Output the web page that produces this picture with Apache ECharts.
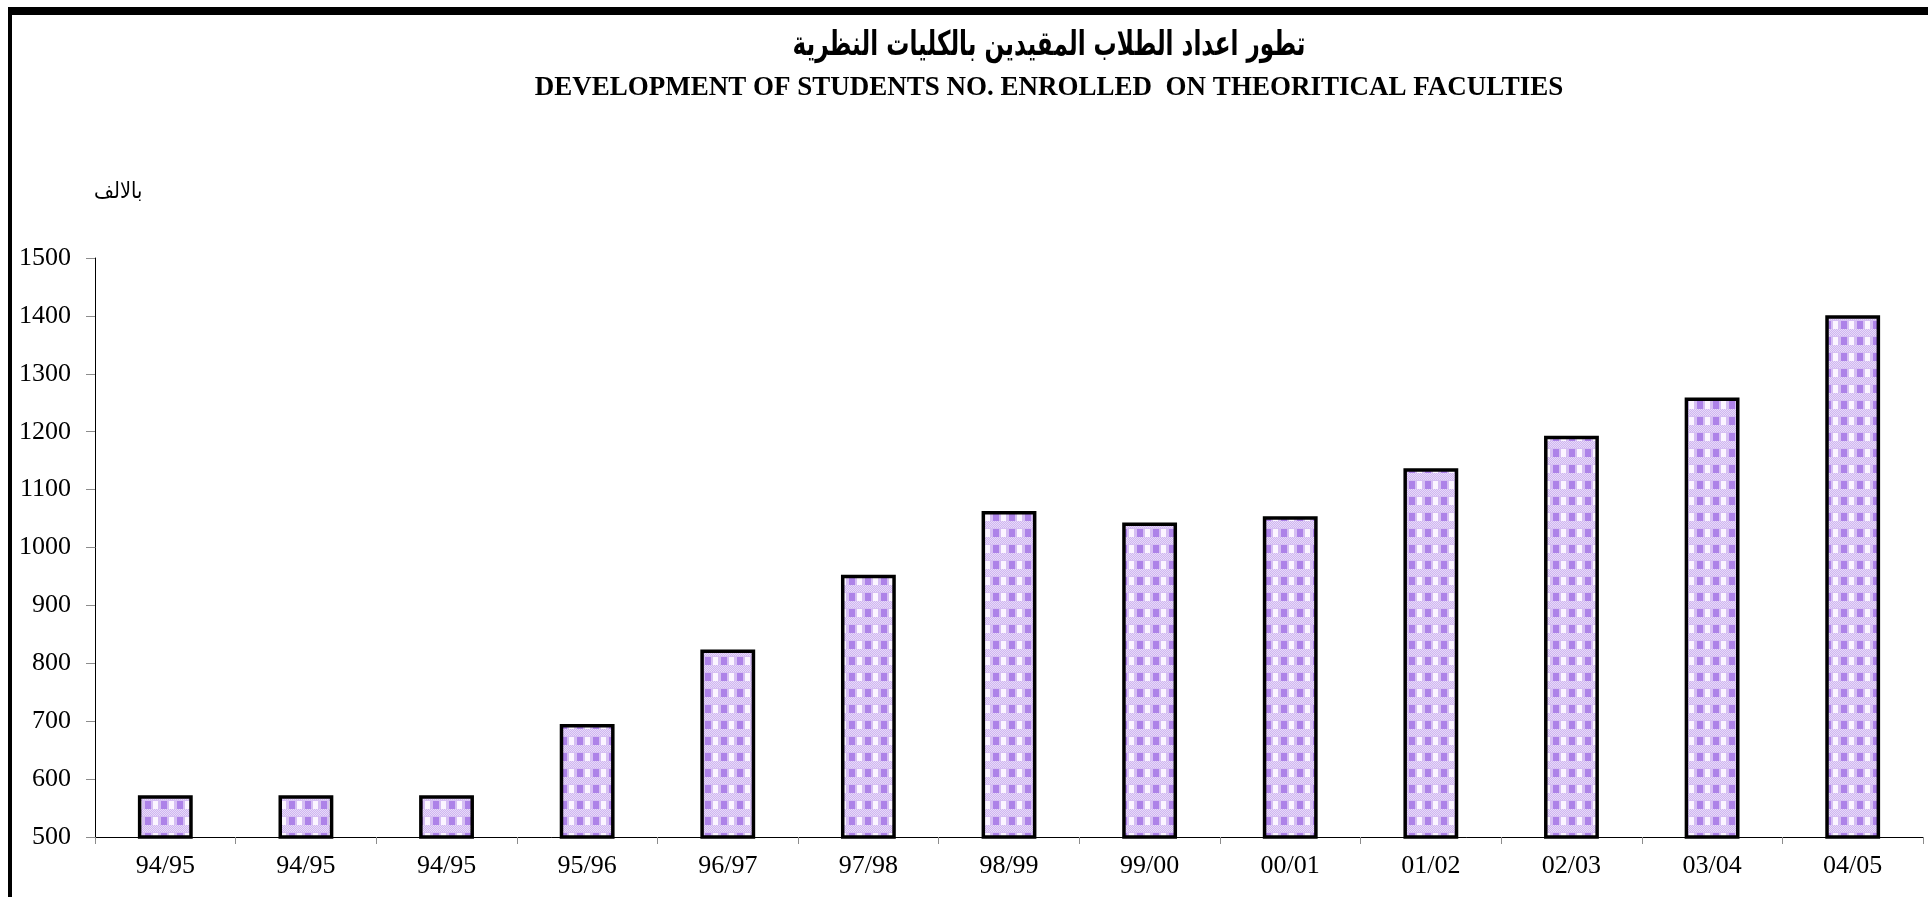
<!DOCTYPE html>
<html>
<head>
<meta charset="utf-8">
<title>Theoretical faculties enrolment</title>
<script src="https://cdn.jsdelivr.net/npm/echarts@6/dist/echarts.min.js"></script>
<style>
  html, body { margin: 0; padding: 0; background: #ffffff; }
  #chart { width: 1928px; height: 897px; }
</style>
</head>
<body>
<div id="chart"></div>
<script>
// Academic years (the first year is repeated three times in the source table)
const years = ['94/95', '94/95', '94/95', '95/96', '96/97', '97/98', '98/99', '99/00', '00/01', '01/02', '02/03', '03/04', '04/05'];
// Enrolled students, in thousands
const enrolled = [572, 572, 572, 695, 824, 953, 1063, 1043, 1054, 1137, 1193, 1259, 1401];
// Value axis range and step
const yMin = 500;
const yMax = 1500;
const yStep = 100;

const titleAr = 'تطور اعداد الطلاب المقيدين بالكليات النظرية';
const titleEn = 'DEVELOPMENT OF STUDENTS NO. ENROLLED  ON THEORITICAL FACULTIES';
const unitAr = 'بالالف';

// Lavender checked fill for the columns
function makeCheckTile() {
  const c = document.createElement('canvas');
  c.width = 16; c.height = 16;
  const g = c.getContext('2d');
  g.fillStyle = '#d6bff3';
  g.fillRect(0, 0, 16, 16);
  // dithered light band between block rows
  for (let y = 9; y < 16; y++) {
    for (let x = 0; x < 16; x++) {
      g.fillStyle = ((x + y) % 2 === 0) ? '#e8daf9' : '#cfb6f0';
      g.fillRect(x, y, 1, 1);
    }
  }
  g.fillStyle = '#ad82e8';
  g.fillRect(1, 1, 6, 8);
  g.fillStyle = '#fbf5ff';
  g.fillRect(9, 1, 5, 8);
  return c;
}

const chart = echarts.init(document.getElementById('chart'), null, { renderer: 'canvas' });

chart.setOption({
  backgroundColor: '#ffffff',
  animation: false,
  grid: { left: 95, right: 5, top: 258, bottom: 60, containLabel: false },
  xAxis: {
    type: 'category',
    data: years,
    boundaryGap: true,
    axisLine: { lineStyle: { color: '#000000', width: 1 } },
    axisTick: { show: true, alignWithLabel: false, length: 7, lineStyle: { color: '#8c8c8c', width: 1 } },
    axisLabel: {
      margin: 16,
      color: '#000000',
      fontFamily: "'Liberation Serif', 'Times New Roman', serif",
      fontSize: 26
    },
    splitLine: { show: false }
  },
  yAxis: {
    type: 'value',
    min: yMin,
    max: yMax,
    interval: yStep,
    axisLine: { show: true, lineStyle: { color: '#000000', width: 1 } },
    axisTick: { show: true, length: 9, lineStyle: { color: '#8c8c8c', width: 1 } },
    axisLabel: {
      margin: 24,
      color: '#000000',
      fontFamily: "'Liberation Serif', 'Times New Roman', serif",
      fontSize: 26,
      formatter: v => String(v)
    },
    splitLine: { show: false }
  },
  series: [{
    type: 'bar',
    data: enrolled,
    barWidth: '39%',
    itemStyle: {
      color: { image: makeCheckTile(), repeat: 'repeat' },
      borderColor: '#000000',
      borderWidth: 3.5
    }
  }],
  graphic: [
    // frame edges
    { type: 'rect', silent: true, shape: { x: 8, y: 7, width: 1920, height: 8 }, style: { fill: '#000000' } },
    { type: 'rect', silent: true, shape: { x: 8, y: 7, width: 4, height: 890 }, style: { fill: '#000000' } },
    {
      type: 'text', silent: true, x: 1049, y: 46, scaleX: 0.68,
      style: {
        text: titleAr, align: 'center', verticalAlign: 'middle',
        fill: '#000000', font: "bold 34px 'DejaVu Sans', sans-serif"
      }
    },
    {
      type: 'text', silent: true, x: 1049, y: 88,
      style: {
        text: titleEn, align: 'center', verticalAlign: 'middle',
        fill: '#000000', font: "bold 27px 'Liberation Serif', 'Times New Roman', serif"
      }
    },
    // unit caption above the value axis
    {
      type: 'text', silent: true, x: 94, y: 192, scaleX: 0.88,
      style: {
        text: unitAr, align: 'left', verticalAlign: 'middle',
        fill: '#000000', font: "22px 'DejaVu Sans', sans-serif"
      }
    }
  ]
});
</script>
</body>
</html>
